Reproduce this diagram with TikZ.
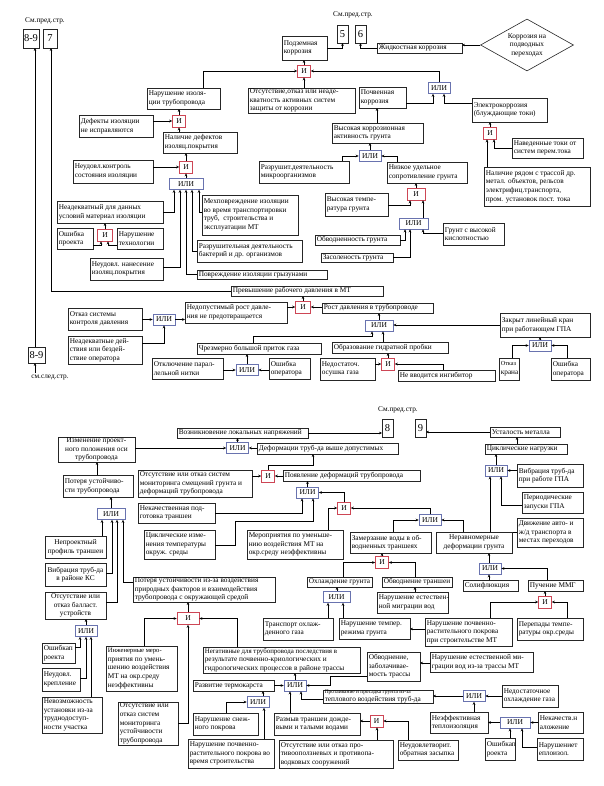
\documentclass[tikz,border=0pt]{standalone}
\usepackage{fontspec}
\setmainfont{Liberation Serif}
\usetikzlibrary{arrows.meta,shapes.geometric,shadows}
\definecolor{andc}{RGB}{205,70,85}
\definecolor{orc}{RGB}{105,115,175}
\tikzset{
 box/.style={draw=black!85,line width=0.6pt,fill=white,inner sep=0pt,outer sep=0pt,drop shadow={shadow xshift=0.7pt,shadow yshift=-0.7pt,fill=black!55,opacity=0.8}},
 txt/.style={inner sep=0pt,font=\fontsize{7.3}{8.6}\selectfont},
 andg/.style={draw=andc,line width=0.6pt,fill=white,inner sep=0pt,minimum height=12pt,font=\fontsize{7.5}{8}\selectfont},
 org/.style={draw=orc,line width=0.6pt,fill=white,inner sep=0pt,minimum height=11pt,font=\fontsize{7.5}{8}\selectfont},
 arr/.style={draw=black,line width=0.55pt,-{Stealth[length=3pt,width=2.6pt]}},
}
\newcommand\bx[7][L]{%
 \pgfmathsetmacro\bxw{#5-#3}\pgfmathsetmacro\bxh{#6-#4}%
 \node[box,minimum width=\bxw pt,minimum height=\bxh pt] (#2) at ({(#3+#5)/2},{(#4+#6)/2}) {};%
 \if#1L\node[txt,anchor=west,align=left] (#2-t) at ([xshift=1.6pt]#2.west) {#7};%
 \else\node[txt,align=center] (#2-t) at (#2.center) {#7};\fi}
\newcommand\gA[4][13]{\node[andg,minimum width=#1pt] (#2) at (#3,#4) {И};}
\newcommand\gO[4][22]{\node[org,minimum width=#1pt] (#2) at (#3,#4) {ИЛИ};}
\newcommand\bigf{\fontsize{10.5}{11}\selectfont}
\begin{document}
\begin{tikzpicture}[x=1pt,y=-1pt]
\fill[white] (0,0) rectangle (604,786);
\useasboundingbox (0,0) rectangle (604,786);
% ---------------- top page ----------------
\node[txt] (cmp1) at (45,21) {См.пред.стр.};
\bx[C]{t89}{23}{29}{39}{48}{\bigf 8-9}
\bx[C]{t7}{43}{29}{57}{48}{\bigf 7}
\bx[C]{b89}{28}{347}{45}{363}{\bigf 8-9}
\node[txt] (cms) at (50,378) {см.след.стр.};
\coordinate (cmsa) at (35,373);
\draw[arr] (b89.north -| 35,0) -- (t89.south -| 35,0);
\draw[arr] (cmsa) -- (b89.south -| 35,0);

\node[txt] (cmp2) at (353,15) {См.пред.стр.};
\bx[C]{t5}{337}{25}{348}{43}{\bigf 5}
\bx[C]{t6}{355}{25}{366}{43}{\bigf 6}
\bx{podz}{282}{36}{327}{60}{Подземная\\коррозия}
\bx{zhid}{377}{43}{462}{53}{Жидкостная коррозия}
\node[draw=black!85,line width=0.6pt,diamond,minimum width=93pt,minimum height=52pt,inner sep=0pt] (dia) at (527,45) {};
\node[txt,align=center] (dia-t) at (527,45) {Коррозия на\\подводных\\переходах};
\draw[arr] (dia.west) -- (dia.west -| zhid.east);
\draw[arr] (podz.east |- 0,48) -| (t5.south);
\draw[arr] (zhid.west) -| (t6.south);

\gA{g1}{304}{71}
\draw[arr] (g1.north) -- (g1.north |- podz.south);
\bx{narizol}{147}{88}{220}{109}{Нарушение изоля-\\ции трубопровода}
\draw[arr] (narizol.north -| 203,0) |- (g1.west);
\gO{g2}{439}{88}
\draw[arr] (g2.north) |- (g1.east);
\bx{otsut}{248}{88}{355}{113}{Отсутствие,отказ или неаде-\\кватность активных систем\\защиты от коррозии}
\draw[arr] (otsut.north -| g1.south) -- (g1.south);
\bx{pochv}{359}{87}{406}{108}{Почвенная\\коррозия}
\draw[arr] (pochv.east |- 0,103) -| (g2.south -| 433,0);
\bx{elek}{472}{98}{547}{122}{Электрокоррозия\\(блуждающие токи)}
\draw[arr] (elek.west |- 0,103) -| (g2.south -| 444,0);
\gA{g3}{490}{133}
\draw[arr] (g3.north) -- (g3.north |- elek.south);
\bx{naved}{512}{138}{583}{158}{Наведенные токи от\\систем перем.тока}
\draw[arr] (naved.west) -| (g3.south -| 494,0);
\bx{nalich}{484}{167}{590}{206}{Наличие рядом с трассой др.\\метал. объектов, рельсов\\электрифиц.транспорта,\\пром. установок пост. тока}
\draw[arr] (nalich.north -| 487,0) -- (g3.south -| 487,0);

\bx{vysk}{332}{123}{423}{143}{Высокая коррозионная\\активность грунта}
\draw[arr] (vysk.north -| 377,0) -- (pochv.south -| 377,0);
\gO{g4}{370}{156}
\draw[arr] (g4.north) -- (g4.north |- vysk.south);
\bx{razrm}{259}{161}{349}{183}{Разрушит.деятельность\\микроорганизмов}
\draw[arr] (razrm.north -| 342,0) |- (g4.west);
\bx{nizk}{387}{162}{467}{183}{Низкое удельное\\сопротивление грунта}
\draw[arr] (nizk.north -| 397,0) |- (g4.east);
\gA[18]{g5}{416}{194}
\draw[arr] (g5.north) -- (g5.north |- nizk.south);
\bx{vtemp}{325}{193}{388}{216}{Высокая темпе-\\ратура грунта}
\draw[arr] (vtemp.east |- 0,205) -| (g5.south -| 410,0);
\gO[29]{g6}{413.5}{223.5}
\draw[arr] (g6.north -| 423,0) -- (g5.south -| 423,0);
\bx{kisl}{443}{223}{504}{245}{Грунт с высокой\\кислотностью}
\draw[arr] (kisl.west |- 0,233) -| (g6.south -| 423,0);
\bx{obvg}{315}{235}{400}{245}{Обводненность грунта}
\draw[arr] (obvg.east) -| (g6.south -| 405,0);
\bx{zasol}{321}{253}{393}{262}{Засоленость грунта}
\draw[arr] (zasol.east) -| (g6.south -| 410,0);

\gA{g7}{179}{121}
\draw[arr] (g7.north) -- (g7.north |- narizol.south);
\bx{defis}{79}{115}{153}{137}{Дефекты изоляции\\не исправляются}
\draw[arr] (defis.east |- g7.west) -- (g7.west);
\bx{naldef}{163}{132}{237}{153}{Наличие дефектов\\изоляц.покрытия}
\draw[arr] (naldef.north -| g7.south) -- (g7.south);
\gA{g8}{186}{167}
\draw[arr] (g8.north) -- (g8.north |- naldef.south);
\bx{nekon}{73}{160}{153}{183}{Неудовл.контроль\\состояния изоляции}
\draw[arr] (nekon.east |- g8.west) -- (g8.west);
\gO[34]{g9}{186}{184}
\draw[arr] (g9.north) -- (g8.south);
\bx{neadm}{57}{201}{163}{223}{Неадекватный для данных\\условий материал изоляции}
\draw[arr] (neadm.east) -| (g9.south -| 174,0);
\gA[15]{g10}{105}{235}
\draw[arr] (g10.north) -- (g10.north |- neadm.south);
\bx{oshpr}{57}{228}{93}{249}{Ошибка\\проекта}
\draw[arr] (oshpr.east |- 0,245) -| (g10.south -| 101,0);
\bx{nartech}{117}{228}{163}{249}{Нарушение\\технологии}
\draw[arr] (nartech.west |- 0,245) -| (g10.south -| 108,0);
\bx{meh}{202}{195}{298}{235}{Мехповреждение изоляции\\во время транспортировки\\труб,~ строительства и\\эксплуатации МТ}
\draw[arr] (meh.west |- 0,212) -| (g9.south -| 199,0);
\bx{razrb}{197}{240}{302}{262}{Разрушительная деятельность\\бактерий и др. организмов}
\draw[arr] (razrb.west) -| (g9.south -| 192,0);
\bx{nenan}{90}{258}{163}{280}{Неудовл. нанесение\\изоляц.покрытия}
\draw[arr] (nenan.east |- 0,267) -| (g9.south -| 180,0);
\bx{gryz}{197}{270}{327}{279}{Повреждение изоляции грызунами}
\draw[arr] (gryz.west) -| (g9.south -| 186,0);

\bx{prev}{231}{286}{383}{296}{Превышение рабочего давления в МТ}
\draw[arr] (prev.west) -| (t7.south -| 51,0);
\gA[15]{g11}{303}{307}
\draw[arr] (g11.north) -- (g11.north |- prev.south);
\bx{nedop}{185}{302}{287}{323}{Недопустимый рост давле-\\ния не предотвращается}
\draw[arr] (nedop.east |- g11.west) -- (g11.west);
\bx{rost}{322}{303}{433}{313}{Рост давления в трубопроводе}
\draw[arr] (rost.west |- g11.east) -- (g11.east);
\gO{g12}{164}{319.5}
\draw[arr] (g12.east) -- (g12.east -| nedop.west);
\bx{otkst}{68}{308}{142}{330}{Отказ системы\\контроля давления}
\draw[arr] (otkst.east |- g12.west) -- (g12.west);
\bx{neaddei}{68}{336}{142}{364}{Неадекватные дей-\\ствия или бездей-\\ствие оператора}
\draw[arr] (neaddei.east |- 0,343) -| (g12.south);
\gO[28]{g13}{379}{325.5}
\draw[arr] (g13.north) -- (g13.north |- rost.south);
\bx{zakr}{500}{313}{590}{337}{Закрыт линейный кран\\при работающем ГПА}
\draw[arr] (zakr.west) -- (zakr.west -| g13.east);
\gO{g14}{540}{345.5}
\draw[arr] (g14.north) -- (g14.north |- zakr.south);
\bx{otkkr}{499}{358}{519}{380}{\fontsize{6.2}{8.6}\selectfont Отказ\\крана}
\draw[arr] (otkkr.north -| 512,0) |- (g14.west);
\bx{oshop2}{551}{358}{590}{380}{Ошибка\\оператора}
\draw[arr] (oshop2.north -| 567,0) |- (g14.east);
\bx{gidr}{332}{342}{448}{353}{Образование гидратной пробки}
\draw[arr] (gidr.north -| 383,0) -- (g13.south -| 383,0);
\gA{g15}{388}{364}
\draw[arr] (g15.north) -- (g15.north |- gidr.south);
\bx{osush}{320}{358}{375}{380}{Недостаточ.\\осушка газа}
\draw[arr] (osush.east |- g15.west) -- (g15.west);
\bx{ingib}{398}{370}{495}{381}{Не вводится ингибитор}
\draw[arr] (ingib.north -| 443,0) |- (g15.east);
\bx{chrez}{197}{343}{321}{354}{Чрезмерно большой приток газа}
\draw[arr] (chrez.north -| 253,0) -- (253,336) -| (g13.south -| 372,0);
\gO{g16}{247}{370}
\draw[arr] (g16.north) -- (g16.north |- chrez.south);
\bx{otkl}{152}{358}{223}{379}{Отключение парал-\\лельной нитки}
\draw[arr] (otkl.east |- g16.west) -- (g16.west);
\bx{oshop1}{269}{358}{310}{379}{Ошибка\\оператора}
\draw[arr] (oshop1.west |- g16.east) -- (g16.east);

% ---------------- bottom page ----------------
\node[txt] (cmp3) at (398,410) {См.пред.стр.};
\bx[C]{b8}{382}{419}{393}{437}{\bigf 8}
\bx[C]{b9}{415}{419}{426}{437}{\bigf 9}
\bx{vozn}{177}{428}{308}{438}{Возникновение локальных напряжений}
\draw[arr] (vozn.east) -- (vozn.east -| b8.west);
\bx{ustal}{490}{427}{560}{437}{Усталость металла}
\draw[arr] (ustal.west) -- (ustal.west -| b9.east);
\bx{cikl}{485}{444}{567}{454}{Циклические нагрузки}
\draw[arr] (cikl.north -| 517,0) -- (ustal.south -| 517,0);
\gO{g17}{496}{470.5}
\draw[arr] (g17.north) -- (g17.north |- cikl.south);
\bx{vibgpa}{517}{464}{583}{487}{Вибрация труб-да\\при работе ГПА}
\draw[arr] (vibgpa.west |- g17.east) -- (g17.east);
\bx{period}{522}{492}{583}{513}{Периодические\\запуски ГПА}
\draw[arr] (period.west |- 0,505) -| (g17.south -| 501,0);
\bx{dvizh}{517}{518}{583}{547}{Движение авто- и\\ж/д транспорта в\\местах переходов}
\draw[arr] (dvizh.west |- 0,532) -| (g17.south -| 490,0);

\bx[C]{izm}{58}{437}{135}{462}{Изменение проект-\\ного положения оси\\трубопровода}
\gO{g18}{237.5}{448}
\draw[arr] (izm.east |- g18.west) -- (g18.west);
\draw[arr] (g18.north) -- (g18.north |- vozn.south);
\bx{deform}{257}{443}{398}{454}{Деформации труб-да выше допустимых}
\draw[arr] (deform.west |- g18.east) -- (g18.east);
\bx{poter}{63}{475}{133}{497}{Потеря устойчиво-\\сти трубопровода}
\draw[arr] (poter.north -| 97,0) -- (izm.south -| 97,0);
\bx{otsmon}{138}{470}{252}{497}{Отсутствие или отказ систем\\мониторинга смещений грунта и\\деформаций трубопровода}
\gA{g19}{268}{476}
\draw[arr] (otsmon.east |- g19.west) -- (g19.west);
\draw[arr] (g19.north) -- (268,465) -| (deform.south -| 313,0);
\bx{poyav}{283}{470}{420}{481}{Появление деформаций трубопровода}
\draw[arr] (poyav.west |- g19.east) -- (g19.east);
\gO{g20}{307.5}{492.5}
\draw[arr] (g20.north) -- (g20.north |- poyav.south);
\gA{g21}{344}{508}
\draw[arr] (g21.north) |- (g20.east);
\bx{merop}{247}{530}{343}{559}{Мероприятия по уменьше-\\нию воздействия МТ на\\окр.среду неэффективны}
\draw[arr] (merop.north -| 328,0) |- (g21.west);
\gO{g22}{430}{520}
\draw[arr] (g22.north) |- (g21.east);
\bx{zamerz}{350}{532}{431}{553}{Замерзание воды в об-\\водненных траншеях}
\draw[arr] (zamerz.north -| 393,0) |- (g22.west);
\bx[C]{nerav}{436}{532}{512}{553}{Неравномерные\\деформации грунта}
\draw[arr] (nerav.north -| 463,0) |- (g22.east);
\gA{g32}{382}{562.5}
\draw[arr] (g32.north) -- (g32.north |- zamerz.south);
\bx{ohlg}{307}{577}{372}{587}{Охлаждение грунта}
\draw[arr] (ohlg.north -| 343,0) |- (g32.west);
\bx{obvtr}{382}{577}{452}{587}{Обводнение траншеи}
\draw[arr] (obvtr.north -| 415,0) |- (g32.east);
\bx{narmig}{377}{592}{448}{613}{Нарушение естествен-\\ной миграции вод}
\draw[arr] (narmig.north -| 415,0) -- (obvtr.south -| 415,0);
\gO[27]{g33}{336.5}{597}
\draw[arr] (g33.north -| 337,0) -- (ohlg.south -| 337,0);
\bx{transp}{263}{618}{333}{640}{Транспорт охлаж-\\денного газа}
\draw[arr] (transp.north -| 328,0) -- (g33.south -| 328,0);
\bx{nartemp}{339}{618}{410}{639}{Нарушение темпер.\\режима грунта}
\draw[arr] (nartemp.north -| 343,0) -- (g33.south -| 343,0);
\bx{narpoc1}{425}{618}{512}{646}{Нарушение почвенно-\\растительного покрова\\при строительстве МТ}
\draw[arr] (narpoc1.west |- 0,629) -- (nartemp.east |- 0,629);
\gO{g35}{490}{568.5}
\draw[arr] (g35.north -| 489,0) -- (nerav.south -| 489,0);
\bx{solif}{463}{580}{518}{591}{Солифлюкция}
\draw[arr] (solif.north -| 489,0) -- (g35.south -| 489,0);
\bx{puch}{528}{580}{583}{591}{Пучение ММГ}
\draw[arr] (puch.north -| 547,0) |- (g35.east);
\gA{g34}{545}{602}
\draw[arr] (g34.north) -- (g34.north |- puch.south);
\draw[arr] (narpoc1.north -| 490,0) |- (g34.west);
\bx{perep}{517}{618}{583}{640}{Перепады темпе-\\ратуры окр.среды}
\draw[arr] (perep.north -| 567,0) |- (g34.east);

\gO[28]{g24}{111}{514}
\draw[arr] (g24.north) -- (g24.north |- poter.south);
\bx{nekach}{138}{503}{215}{523}{Некачественная под-\\готовка траншеи}
\draw[arr] (nekach.east |- 0,513) -| (g20.south -| 302,0);
\bx{ciklt}{144}{530}{215}{559}{Циклические изме-\\нения температуры\\окруж. среды}
\draw[arr] (ciklt.east |- 0,545) -| (235,521) -| (g20.south -| 313,0);
\bx[C]{neproekt}{45}{536}{106}{558}{Непроектный\\профиль траншеи}
\draw[arr] (neproekt.north -| 102,0) -- (g24.south -| 102,0);
\bx[C]{vibks}{45}{563}{106}{586}{Вибрация труб-да\\в районе КС}
\draw[arr] (vibks.east |- 0,573) -| (g24.south -| 112,0);
\bx[C]{otsbal}{45}{592}{106}{619}{Отсутствие или\\отказ балласт.\\устройств}
\draw[arr] (otsbal.east |- 0,602) -| (g24.south -| 117,0);
\bx{poterpr}{133}{577}{275}{602}{Потеря устойчивости из-за воздействия\\природных факторов и взаимодействия\\трубопровода с окружающей средой}
\draw[arr] (poterpr.west |- 0,582) -| (g24.south -| 123,0);
\gA[22]{g25}{188}{618.5}
\draw[arr] (g25.north) -- (g25.north |- poterpr.south);
\gO{g26}{86}{631}
\draw[arr] (g26.north) -- (g26.north |- otsbal.south);
\bx{oshpr2}{42}{643}{75}{663}{Ошибкап\\роекта}
\draw[arr] (oshpr2.east |- 0,647) -| (g26.south -| 80,0);
\bx{nekrep}{42}{668}{80}{691}{Неудовл.\\крепление}
\draw[arr] (nekrep.east |- 0,678) -| (g26.south -| 86,0);
\bx{nevoz}{42}{697}{102}{733}{Невозможность\\установки из-за\\труднодоступ-\\ности участка}
\draw[arr] (nevoz.north -| 91,0) -- (g26.south -| 91,0);
\bx{inzh}{106}{646}{177}{691}{\fontsize{6.6}{8.6}\selectfont Инженерные меро-\\приятия по умень-\\шению воздействия\\МТ на окр.среду\\неэффективны}
\draw[arr] (inzh.north -| 144,0) |- (g25.west);
\bx{otsust}{118}{702}{178}{745}{Отсутствие или\\отказ систем\\мониторинга\\устойчивости\\трубопровода}
\draw[arr] (otsust.east |- 0,723) -| (g25.south);
\bx{negat}{203}{647}{360}{673}{\fontsize{6.9}{8.4}\selectfont Негативные для трубопровода последствия в\\результате почвенно-криологических и\\гидрологических процессов в районе трассы}
\draw[arr] (negat.north -| 237,0) |- (g25.east);
\gO{g27}{295}{685.5}
\draw[arr] (g27.north) -- (g27.north |- negat.south);
\bx{termo}{193}{680}{274}{691}{Развитие термокарста}
\draw[arr] (termo.east |- g27.west) -- (g27.west);
\gO{g28}{258}{702}
\draw[arr] (g28.north -| 263,0) -- (termo.south -| 263,0);
\bx{snezh}{193}{713}{258}{735}{Нарушение снеж-\\ного покрова}
\draw[arr] (snezh.north -| 226,0) |- (g28.west);
\bx{narpoc2}{188}{739}{274}{768}{Нарушение почвенно-\\растительного покрова во\\время строительства}
\draw[arr] (narpoc2.north -| 264,0) -- (g28.south -| 264,0);
\bx{razm}{274}{713}{360}{735}{Размыв траншеи дожде-\\выми и талыми водами}
\draw[arr] (razm.north -| 290,0) -- (g27.south -| 290,0);
\bx{prot}{323}{690}{433}{703}{\fontsize{5.4}{6.4}\selectfont Протаивание и просадка грунта из-за\\теплового воздействия труб-да}
\draw[arr] (prot.west |- 0,699) -| (g27.south -| 301,0);
\bx{obvzab}{367}{652}{420}{681}{Обводнение,\\заболачивае-\\мость трассы}
\draw[arr] (obvzab.west |- 0,676) -- (330,676) |- (g27.east);
\bx{narmig2}{430}{652}{533}{672}{Нарушение естественной ми-\\грации вод из-за трассы МТ}
\draw[arr] (narmig2.west |- 0,663) -- (obvzab.east |- 0,663);
\gO{g29}{474}{696}
\draw[arr] (g29.west) -- (g29.west -| prot.east);
\bx{nedohl}{502}{685}{558}{707}{Недостаточное\\охлаждение газа}
\draw[arr] (nedohl.west |- g29.east) -- (g29.east);
\bx{neefteplo}{430}{712}{488}{733}{Неэффективная\\теплоизоляция}
\draw[arr] (neefteplo.north -| 474,0) -- (g29.south);
\gO[30]{g30}{515}{722.5}
\draw[arr] (g30.west) -- (g30.west -| neefteplo.east);
\bx{nekach2}{538}{712}{583}{733}{Некачеств.н\\аложение}
\draw[arr] (nekach2.west |- g30.east) -- (g30.east);
\bx{oshpr3}{485}{738}{515}{760}{Ошибкап\\роекта}
\draw[arr] (oshpr3.north -| 510,0) -- (g30.south -| 510,0);
\bx{nartepl}{537}{738}{583}{760}{Нарушениет\\еплоизол.}
\draw[arr] (nartepl.west |- 0,747) -| (g30.south -| 522,0);
\gA{g31}{376.5}{721}
\draw[arr] (g31.west) -- (g31.west -| razm.east);
\bx{otspr}{279}{740}{393}{768}{Отсутствие или отказ про-\\тивооползневых и противопа-\\водковых сооружений}
\draw[arr] (otspr.north -| 377,0) -- (g31.south -| 377,0);
\bx{neudzas}{398}{740}{458}{760}{Неудовлетворит.\\обратная засыпка}
\draw[arr] (neudzas.north -| 408,0) |- (g31.east);
\end{tikzpicture}
\end{document}
